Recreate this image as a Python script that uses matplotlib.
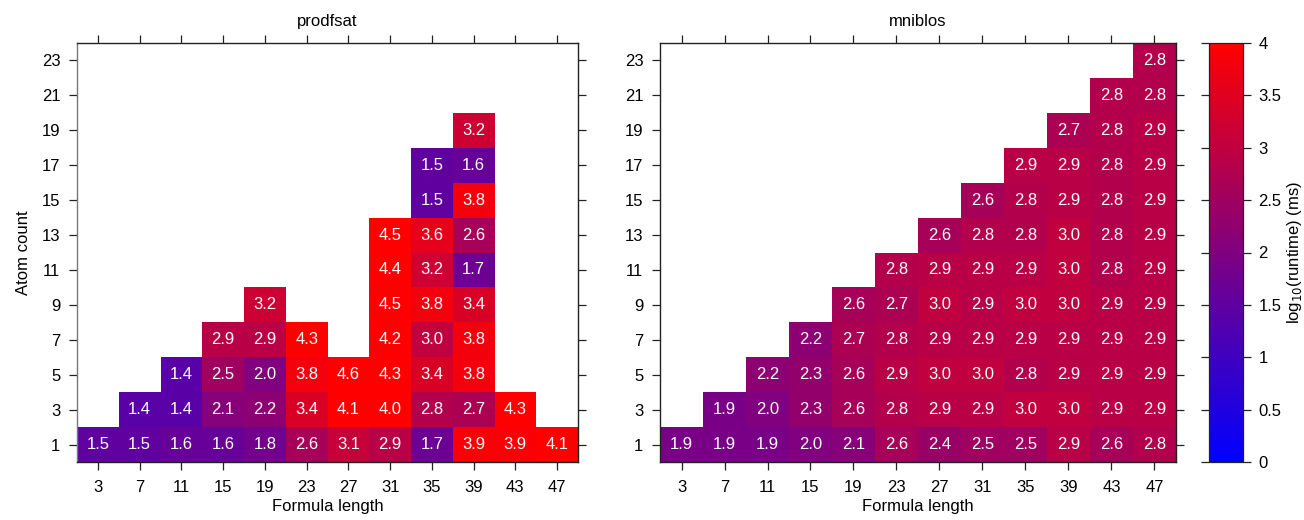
import numpy as np
import matplotlib
matplotlib.use("Agg")
import matplotlib.pyplot as plt
from matplotlib.colors import LinearSegmentedColormap, Normalize
from matplotlib.cm import ScalarMappable

plt.rcParams['font.family'] = ['Liberation Sans', 'DejaVu Sans']

formula_lengths = [3, 7, 11, 15, 19, 23, 27, 31, 35, 39, 43, 47]
atom_counts = [1, 3, 5, 7, 9, 11, 13, 15, 17, 19, 21, 23]
N = np.nan

# rows: atom count 1..23, columns: formula length 3..47
prodfsat = [
    [1.5, 1.5, 1.6, 1.6, 1.8, 2.6, 3.1, 2.9, 1.7, 3.9, 3.9, 4.1],
    [N,   1.4, 1.4, 2.1, 2.2, 3.4, 4.1, 4.0, 2.8, 2.7, 4.3, N],
    [N,   N,   1.4, 2.5, 2.0, 3.8, 4.6, 4.3, 3.4, 3.8, N,   N],
    [N,   N,   N,   2.9, 2.9, 4.3, N,   4.2, 3.0, 3.8, N,   N],
    [N,   N,   N,   N,   3.2, N,   N,   4.5, 3.8, 3.4, N,   N],
    [N,   N,   N,   N,   N,   N,   N,   4.4, 3.2, 1.7, N,   N],
    [N,   N,   N,   N,   N,   N,   N,   4.5, 3.6, 2.6, N,   N],
    [N,   N,   N,   N,   N,   N,   N,   N,   1.5, 3.8, N,   N],
    [N,   N,   N,   N,   N,   N,   N,   N,   1.5, 1.6, N,   N],
    [N,   N,   N,   N,   N,   N,   N,   N,   N,   3.2, N,   N],
    [N,   N,   N,   N,   N,   N,   N,   N,   N,   N,   N,   N],
    [N,   N,   N,   N,   N,   N,   N,   N,   N,   N,   N,   N],
]

mniblos = [
    [1.9, 1.9, 1.9, 2.0, 2.1, 2.6, 2.4, 2.5, 2.5, 2.9, 2.6, 2.8],
    [N,   1.9, 2.0, 2.3, 2.6, 2.8, 2.9, 2.9, 3.0, 3.0, 2.9, 2.9],
    [N,   N,   2.2, 2.3, 2.6, 2.9, 3.0, 3.0, 2.8, 2.9, 2.9, 2.9],
    [N,   N,   N,   2.2, 2.7, 2.8, 2.9, 2.9, 2.9, 2.9, 2.9, 2.9],
    [N,   N,   N,   N,   2.6, 2.7, 3.0, 2.9, 3.0, 3.0, 2.9, 2.9],
    [N,   N,   N,   N,   N,   2.8, 2.9, 2.9, 2.9, 3.0, 2.8, 2.9],
    [N,   N,   N,   N,   N,   N,   2.6, 2.8, 2.8, 3.0, 2.8, 2.9],
    [N,   N,   N,   N,   N,   N,   N,   2.6, 2.8, 2.9, 2.8, 2.9],
    [N,   N,   N,   N,   N,   N,   N,   N,   2.9, 2.9, 2.8, 2.9],
    [N,   N,   N,   N,   N,   N,   N,   N,   N,   2.7, 2.8, 2.9],
    [N,   N,   N,   N,   N,   N,   N,   N,   N,   N,   2.8, 2.8],
    [N,   N,   N,   N,   N,   N,   N,   N,   N,   N,   N,   2.8],
]

titles = ["prodfsat", "mniblos"]
colorbar_ticks = [0, 0.5, 1, 1.5, 2, 2.5, 3, 3.5, 4]

cmap = LinearSegmentedColormap.from_list("br", ["#0000ff", "#ff0000"])
norm = Normalize(vmin=0, vmax=4)

W, H = 1304, 520
fig = plt.figure(figsize=(W / 100, H / 100), dpi=100)

def frac(x0, y0, x1, y1):
    return [x0 / W, 1 - y1 / H, (x1 - x0) / W, (y1 - y0) / H]

axes = [fig.add_axes(frac(77, 43, 578, 462)), fig.add_axes(frac(660, 43, 1176, 462))]

xs = np.array(formula_lengths, dtype=float)
ys = np.array(atom_counts, dtype=float)
xedges = np.concatenate([xs - 2, [xs[-1] + 2]])
yedges = np.concatenate([ys - 1, [ys[-1] + 1]])

for ax, data, title in zip(axes, [prodfsat, mniblos], titles):
    arr = np.ma.masked_invalid(np.array(data, dtype=float))
    ax.pcolormesh(xedges, yedges, arr, cmap=cmap, norm=norm, shading='flat',
                  antialiased=False, linewidth=0)
    for i, yv in enumerate(atom_counts):
        for j, xv in enumerate(formula_lengths):
            v = data[i][j]
            if not np.isnan(v):
                ax.text(xv, yv, f"{v:.1f}", ha='center', va='center',
                        color='white', fontsize=12)
    ax.set_xlim(xedges[0], xedges[-1])
    ax.set_ylim(yedges[0], yedges[-1])
    ax.set_xticks(formula_lengths)
    ax.set_yticks(atom_counts)
    ax.tick_params(direction='out', length=6, width=0.9, color='#222222',
                   top=True, right=True, labeltop=False, labelright=False,
                   labelsize=12)
    ax.tick_params(axis='x', pad=7)
    ax.tick_params(axis='y', pad=6)
    ax.set_title(title, fontsize=12, pad=12)
    ax.set_xlabel("Formula length", fontsize=12, labelpad=3)
    for s in ax.spines.values():
        s.set_color('#222222')
        s.set_linewidth(1.0)

axes[0].set_ylabel("Atom count", fontsize=12, labelpad=8)
axes[0].spines['left'].set_color('#777777')

cax = fig.add_axes(frac(1209, 43, 1243, 462))
sm = ScalarMappable(norm=norm, cmap=cmap)
cb = fig.colorbar(sm, cax=cax, ticks=colorbar_ticks)
cb.ax.set_yticklabels([f"{t:g}" for t in colorbar_ticks])
cb.outline.set_edgecolor('#222222')
cb.outline.set_linewidth(0.9)
cax.yaxis.set_ticks_position('both')
cax.tick_params(direction='out', length=6, width=0.9, color='#222222',
                left=True, right=True, labelleft=False, labelright=True,
                labelsize=12, pad=5)
fig.text(1295 / W, 1 - 252 / H, "log$_{10}$(runtime) (ms)", rotation=90,
         ha='center', va='center', fontsize=12)

fig.savefig("out.png", dpi=100)
